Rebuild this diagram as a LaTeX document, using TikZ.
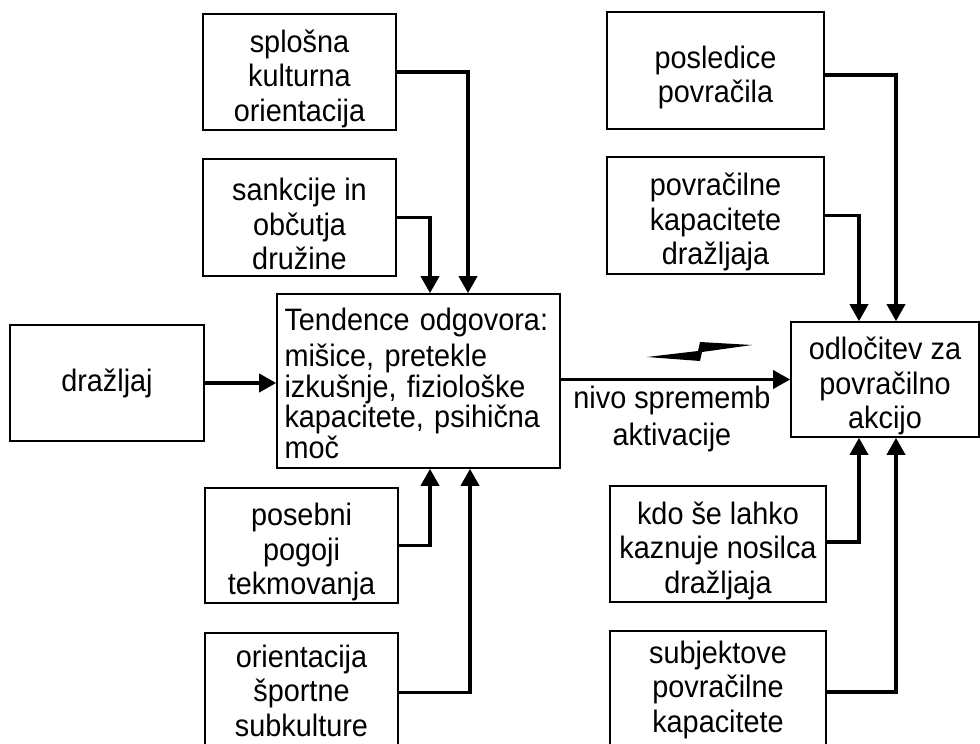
\documentclass[tikz,border=0pt]{standalone}
\usepackage{fontspec}
\setmainfont{Liberation Sans}[FakeStretch=0.93]
\usetikzlibrary{arrows.meta}
\newcommand\toplift{\rule{0pt}{36pt}}
\begin{document}
\begin{tikzpicture}[x=1pt,y=-1pt,
  box/.style={draw, line width=1.6pt, inner sep=0pt, align=center,
    font=\fontsize{31}{34.5}\selectfont},
  conn/.style={line width=3.6pt, -{Triangle[length=17pt,width=18pt]}},
  lbl/.style={align=center, font=\fontsize{31}{37}\selectfont}]
\useasboundingbox (0,0) rectangle (980,744);
\fill[white] (0,0) rectangle (980,744);
\clip (0,0) rectangle (980,744);
% left column
\node[box, minimum width=194pt, minimum height=116pt] (draz) at (107,383) {dražljaj};
\node[box, minimum width=193pt, minimum height=116pt] (splo) at (299.5,72) {\toplift splošna\\kulturna\\orientacija};
\node[box, minimum width=193pt, minimum height=117pt] (sank) at (299.5,217.5) {\toplift sankcije in\\občutja\\družine};
\node[box, minimum width=193pt, minimum height=115pt] (pose) at (301.5,545.5) {\toplift posebni\\pogoji\\tekmovanja};
\node[box, minimum width=193pt, minimum height=115pt] (ori) at (301.5,690.5) {orientacija\\športne\\subkulture};
% centre
\node[box, align=left, minimum width=283pt, minimum height=174pt, text width=268pt,
  font=\fontsize{31}{30.5}\selectfont] (tend) at (418.5,381)
  {\rule{0pt}{27pt}Tendence odgovora:\\[6pt]mišice, pretekle\\izkušnje, fiziološke\\kapacitete, psihična\\moč};
% right column
\node[box, minimum width=217pt, minimum height=117pt] (pos) at (715.5,70.5) {\toplift posledice\\povračila};
\node[box, minimum width=217pt, minimum height=117pt] (povk) at (715.5,215.5) {\toplift povračilne\\kapacitete\\dražljaja};
\node[box, minimum width=188pt, minimum height=115pt] (odl) at (885,379.5) {\toplift odločitev za\\povračilno\\akcijo};
\node[box, minimum width=216pt, minimum height=116pt] (kdo) at (718,544) {\toplift kdo še lahko\\kaznuje nosilca\\dražljaja};
\node[box, minimum width=216pt, minimum height=117pt] (subj) at (718,689.5) {subjektove\\povračilne\\kapacitete};
% label
\node[lbl] (lab) at (672,419) {nivo sprememb\\aktivacije};
% connectors
\draw[conn] (splo.east) -| ([xshift=49.5pt]tend.north);
\draw[conn] (sank.east) -| ([xshift=11.5pt]tend.north);
\draw[conn] (pose.east) -| ([xshift=11.5pt]tend.south);
\draw[conn] ([yshift=-2pt]ori.east) -| ([xshift=51.5pt]tend.south);
\draw[conn] (draz.east) -- (draz.east -| tend.west);
\draw[conn] (tend.east |- odl.west) -- (odl.west);
\draw[conn] ([yshift=-4.5pt]pos.east) -| ([xshift=11pt]odl.north);
\draw[conn] (povk.east) -| ([xshift=-26pt]odl.north);
\draw[conn] ([yshift=2pt]kdo.east) -| ([xshift=-26pt]odl.south);
\draw[conn] ([yshift=-2.5pt]subj.east) -| ([xshift=11pt]odl.south);
% lightning sign
\fill (647,357) -- (698,351) -- (700,342) -- (752,345) -- (702,352) -- (700,361) -- cycle;
\end{tikzpicture}
\end{document}
